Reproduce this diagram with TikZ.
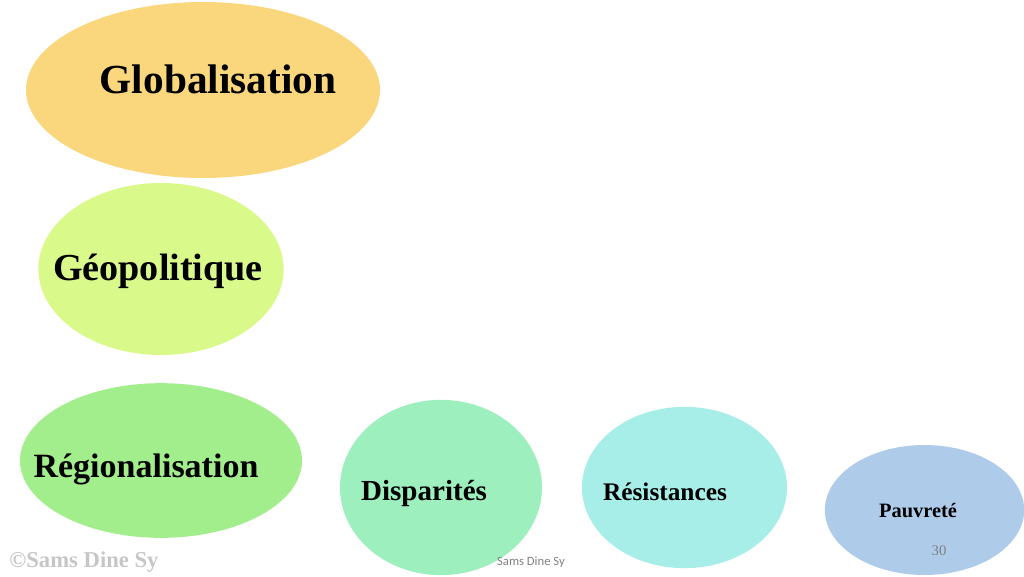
\documentclass[tikz,border=0pt]{standalone}
\usepackage{fontspec}
\setmainfont{Liberation Serif}
\newfontfamily\footfont{Carlito}
\usepackage{xcolor}
\usepackage{tikz}
\usetikzlibrary{positioning,shapes.geometric}

\definecolor{globcol}{HTML}{FAD67D}
\definecolor{geocol}{HTML}{DAF98B}
\definecolor{regcol}{HTML}{A2EE8C}
\definecolor{dispcol}{HTML}{9DF0BE}
\definecolor{rescol}{HTML}{A7EDE8}
\definecolor{pauvcol}{HTML}{AECCEA}

\begin{document}
\begin{tikzpicture}[
    x=0.75pt, y=-0.75pt,
    bubble/.style={ellipse, inner sep=0pt},
    word/.style={anchor=base, font=\bfseries, text=black, inner sep=0pt},
    footmark/.style={anchor=base, text=gray, inner sep=0pt}
]
\useasboundingbox (0,0) rectangle (1024,576);

% Bubbles
\node[bubble, fill=globcol, minimum width=265.5pt, minimum height=132pt] (glob) at (203,90) {};
\node[bubble, fill=geocol, minimum width=184pt, minimum height=129pt] (geo) at (161,269) {};
\node[bubble, fill=regcol, minimum width=211.5pt, minimum height=116pt] (reg) at (161,460.5) {};
\node[bubble, fill=dispcol, minimum width=151.5pt, minimum height=131.5pt] (disp) at (441,487.5) {};
\node[bubble, fill=rescol, minimum width=153.75pt, minimum height=121pt] (res) at (684.5,487.5) {};
\node[bubble, fill=pauvcol, minimum width=149.5pt, minimum height=97.5pt] (pauv) at (924.5,510) {};

% Labels
\node[word, font=\bfseries\fontsize{31}{36}\selectfont] (globtxt) at (218,93) {Globalisation};
\node[word, font=\bfseries\fontsize{28.6}{34}\selectfont] (geotxt) at (158,280) {Géopolitique};
\node[word, font=\bfseries\fontsize{25.5}{30}\selectfont] (regtxt) at (146,477) {Régionalisation};
\node[word, font=\bfseries\fontsize{21.8}{26}\selectfont] (disptxt) at (424,500) {Disparités};
\node[word, font=\bfseries\fontsize{19}{23}\selectfont] (restxt) at (665,500) {Résistances};
\node[word, font=\bfseries\fontsize{15.3}{18}\selectfont] (pauvtxt) at (918,517) {Pauvreté};

% Footer
\node[footmark, font=\fontsize{11}{13}\selectfont] (page) at (939,555) {30};
\node[footmark, font=\footfont\fontsize{9.5}{11}\selectfont] (foot) at (531,565) {Sams Dine Sy};
\node[footmark, text=gray!45, font=\bfseries\fontsize{17}{20}\selectfont] (copy) at (84,567) {©Sams Dine Sy};
\end{tikzpicture}
\end{document}
